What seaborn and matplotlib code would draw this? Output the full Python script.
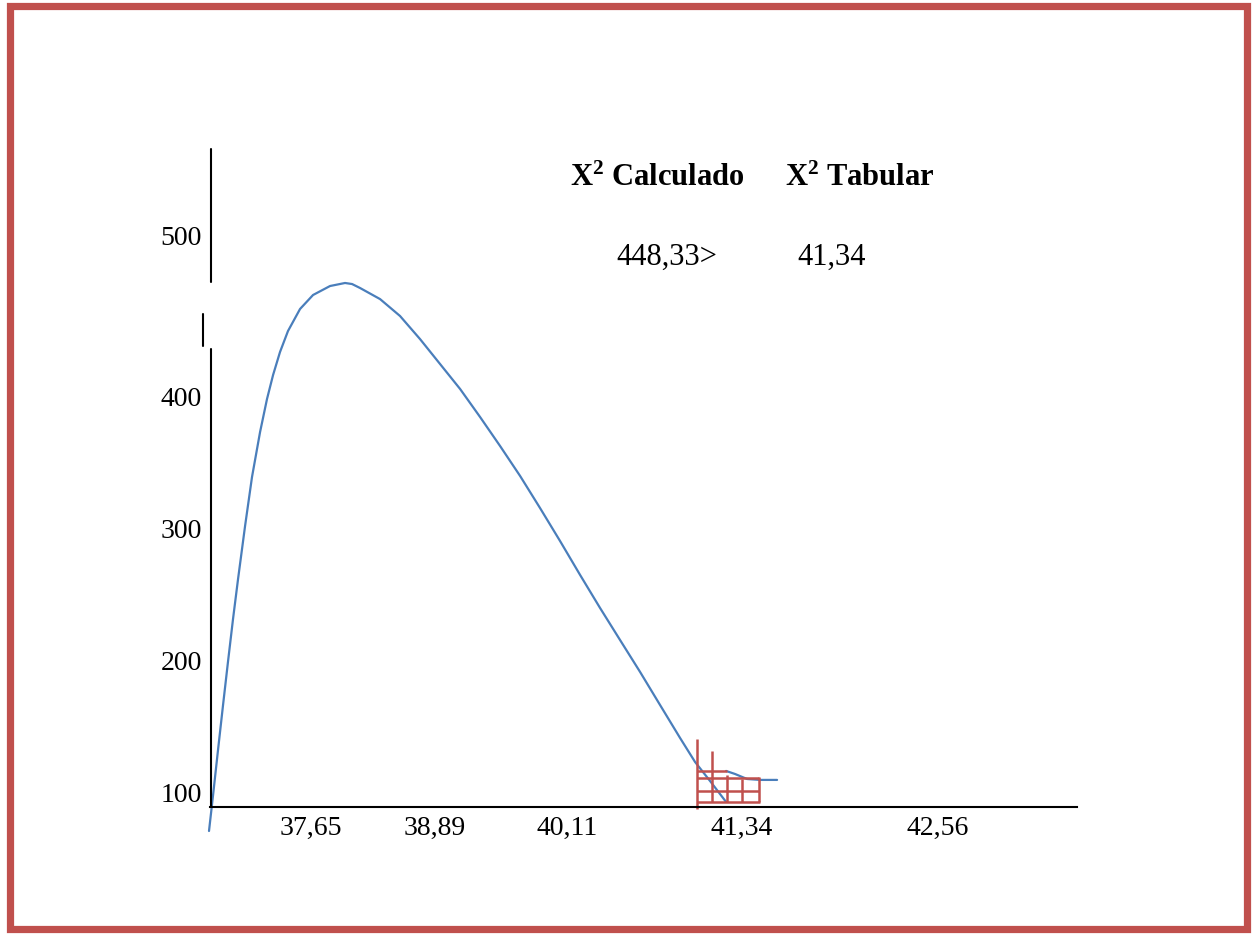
import matplotlib
matplotlib.use("Agg")
import matplotlib.pyplot as plt
from matplotlib.patches import Rectangle
import seaborn as sns
import pandas as pd

# etykiety osi
x_labels = ["37,65", "38,89", "40,11", "41,34", "42,56"]
x_pos = [11.65, 25.95, 41.18, 61.36, 83.97]
y_labels = ["100", "200", "300", "400", "500"]
y_pos = [100, 200, 300, 400, 522]

# krzywa chi-kwadrat
curve_x = [-0.12, 0.35, 0.92, 1.50, 2.08, 2.65, 3.23, 4.04, 4.84, 5.77, 6.57, 7.27,
           8.07, 8.99, 10.38, 11.88, 13.84, 15.57, 16.38, 17.30, 19.61, 21.91,
           24.22, 26.53, 28.84, 31.14, 33.45, 35.76, 38.06, 40.37, 42.68, 44.98,
           47.29, 49.60, 51.90, 54.21, 55.94, 57.67, 59.52]
curve_y = [70.4, 97.7, 131.8, 165.9, 199.2, 231.0, 261.3, 301.5, 338.6, 372.7,
           397.7, 415.9, 433.3, 449.2, 465.9, 476.5, 483.3, 485.6, 484.8, 481.8,
           473.4, 460.6, 443.1, 424.2, 405.3, 384.1, 362.1, 339.4, 315.1, 290.1,
           264.4, 239.4, 215.1, 190.9, 165.9, 140.9, 122.7, 108.3, 92.4]

# ogon krzywej
tail_x = [59.52, 60.55, 61.94, 63.44, 65.4]
tail_y = [115.9, 113.6, 109.8, 109.1, 109.1]

# kratka (obszar odrzucenia)
grid_vx = [56.17, 57.9, 59.63, 61.36, 63.32]
grid_vtop = [140.1, 131.0, 112.8, 109.8, 111.3]
grid_vbot = [87.1, 92.4, 92.4, 92.4, 92.4]
grid_hy = [115.9, 110.6, 100.7, 92.4]
grid_hx0 = [56.17, 56.17, 56.17, 56.17]
grid_hx1 = [59.63, 63.32, 63.32, 63.44]

chi_calc = "448,33>"
chi_tab = "41,34"

sns.set_style("white")
plt.rcParams['font.family'] = ['Liberation Serif', 'DejaVu Serif']
plt.rcParams['mathtext.fontset'] = 'custom'
plt.rcParams['mathtext.rm'] = 'Liberation Serif'
plt.rcParams['mathtext.bf'] = 'Liberation Serif:bold'
plt.rcParams['text.color'] = 'black'
plt.rcParams['xtick.color'] = 'black'
plt.rcParams['ytick.color'] = 'black'

fig = plt.figure(figsize=(12.54, 9.37), dpi=100)
ax = fig.add_axes([0.1675, 0.1377, 0.6914, 0.7022])

df = pd.DataFrame({"x": curve_x, "y": curve_y})
sns.lineplot(data=df, x="x", y="y", ax=ax, color="#4A7EBB", linewidth=1.6,
             sort=False, estimator=None, clip_on=False, solid_joinstyle="round")
ax.plot(tail_x, tail_y, color="#4A7EBB", linewidth=1.6, clip_on=False)

red = "#C0504D"
ax.vlines(grid_vx, grid_vbot, grid_vtop, color=red, linewidth=1.8, clip_on=False)
ax.hlines(grid_hy, grid_hx0, grid_hx1, color=red, linewidth=1.8, clip_on=False)

ax.set_xlim(0, 100)
ax.set_ylim(88.6, 587.1)

for s in ["top", "right", "left"]:
    ax.spines[s].set_visible(False)
ax.spines["bottom"].set_color("black")
ax.spines["bottom"].set_linewidth(1.5)

# os Y z przerwa
ax.plot([0.1, 0.1], [88.6, 435.6], color="black", linewidth=1.5, clip_on=False)
ax.plot([-0.85, -0.85], [437.9, 462.0], color="black", linewidth=1.5, clip_on=False)
ax.plot([0.1, 0.1], [486.4, 587.1], color="black", linewidth=1.5, clip_on=False)

ax.set_xticks(x_pos)
ax.set_xticklabels(x_labels, fontsize=20)
ax.set_yticks(y_pos)
ax.set_yticklabels(y_labels, fontsize=20)
ax.tick_params(axis="x", length=0, pad=6)
ax.tick_params(axis="y", length=0, pad=6)
ax.set_xlabel("")
ax.set_ylabel("")

ax.text(51.56, 565.9, r"$\mathbf{X^{2}}$ Calculado", ha="center", va="center",
        fontsize=22, fontweight="bold")
ax.text(74.97, 565.9, r"$\mathbf{X^{2}}$ Tabular", ha="center", va="center",
        fontsize=22, fontweight="bold")
ax.text(52.7, 506, chi_calc, ha="center", va="center", fontsize=22)
ax.text(71.74, 506, chi_tab, ha="center", va="center", fontsize=22)

# ramka
fig.patches.append(Rectangle((9.5 / 1254, 7 / 937), 1237.5 / 1254, 923 / 937,
                             transform=fig.transFigure, fill=False,
                             edgecolor=red, linewidth=5.2))

fig.savefig("out.png", dpi=100)
